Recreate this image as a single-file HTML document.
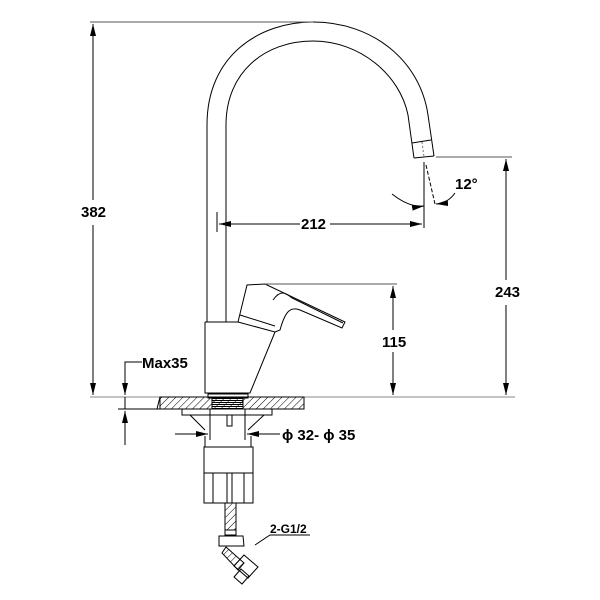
<!DOCTYPE html>
<html><head><style>body{margin:0;background:#fff}svg{display:block}text{font-family:"Liberation Sans Narrow","Liberation Sans",sans-serif;font-size:15px;font-weight:bold;fill:#000}</style></head>
<body>
<svg width="600" height="600" viewBox="0 0 600 600" xmlns="http://www.w3.org/2000/svg">
<defs>
<marker id="a" markerWidth="12" markerHeight="6" refX="12" refY="3" orient="auto" markerUnits="userSpaceOnUse"><path d="M0,0 L12,3 L0,6z" fill="#000"/></marker>
<pattern id="h" width="5" height="5" patternUnits="userSpaceOnUse" patternTransform="rotate(45)"><line x1="0" y1="0" x2="0" y2="5" stroke="#000" stroke-width="1"/></pattern>
<pattern id="t" width="4" height="2" patternUnits="userSpaceOnUse"><line x1="0" y1="0.5" x2="4" y2="0.5" stroke="#000" stroke-width="1"/></pattern>
</defs>
<g fill="none" stroke="#000" stroke-width="1">
<path d="M207,322 L207,125 C207,55 260,22 313,22 C372,22 420,60 428,115 L434,156"/>
<path d="M226,322 L226,125 C226,72 265,41 313,41 C360,41 400,75 408,115 L414,158"/>
<path d="M412,143 L431,140 M414,158 L434,156"/>
<path d="M422,142 L424,157" stroke-dasharray="2,2" stroke="#777"/>
<path d="M205,322 L205,393 L250,393 L275,332 M205,322 L238,322"/>
<path d="M238,322 L247,285 L265,284 L345,322 L342,328 L300,310 C290,306 285,312 280,330 L275,332 L238,322 M240,315 L275,326"/>
<path d="M273,300 C280,290 285,292 292,298 L343,323"/>
<path d="M90,397 L160,397 M304,397 L515,397" stroke="#888"/>
<rect x="160" y="397" width="144" height="12" fill="url(#h)"/>
<path d="M157,409 L160,397 L304,397 L304,409 Z"/>
<rect x="208" y="394" width="40" height="4"/>
<rect x="212" y="398" width="31" height="11" fill="url(#t)"/>
<path d="M182,409 L182,415 L272,415 L272,409 M190,415 L205,430 M264,415 L248,430"/>
<path d="M210,409 L210,440 M245,409 L245,440 M227,415 L227,426 L232,426 L232,415"/>
<path d="M205,436 L205,447 M251,436 L251,447"/>
<rect x="204" y="447" width="49" height="56"/>
<path d="M204,473 L253,473 M227,473 L227,503 M232,473 L232,503 M213,473 L213,503 M244,473 L244,503"/>
<rect x="225" y="503" width="11" height="27" fill="url(#h)"/>
<path d="M225,530 L236,530 L236,535 L225,535 Z"/>
<path d="M219,536 L243,536 L244,546 L219,546 Z"/>
<path d="M226,547 L244,563 L238,570 L222,553 Z" fill="url(#h)"/>
<path d="M244,555 L258,567 L248,578 L234,566 Z"/>
<path d="M241,569 L249,576 L242,584 L234,577 Z"/>
<path d="M255,545 L270,535 L310,535"/>
<path d="M90,22 L313,22" stroke="#555"/>
<path d="M93,200 L93,24" marker-end="url(#a)"/>
<path d="M93,225 L93,395" marker-end="url(#a)"/>
<path d="M436,157 L512,157" stroke="#555"/>
<path d="M506,280 L506,159" marker-end="url(#a)"/>
<path d="M506,305 L506,395" marker-end="url(#a)"/>
<path d="M265,284 L397,284" stroke="#555"/>
<path d="M393,330 L393,286" marker-end="url(#a)"/>
<path d="M393,352 L393,395" marker-end="url(#a)"/>
<path d="M217,212 L217,232 M424,162 L424,228"/>
<path d="M300,224 L219,224" marker-end="url(#a)"/>
<path d="M330,224 L422,224" marker-end="url(#a)"/>
<path d="M426,165 L435,204" stroke-dasharray="4,2"/>
<path d="M392,194 Q410,208 424,206" marker-end="url(#a)"/>
<path d="M455,193 Q448,203 436,204" marker-end="url(#a)"/>
<path d="M142,362 L125,362 L125,395" marker-end="url(#a)"/>
<path d="M125,445 L125,411" marker-end="url(#a)"/>
<path d="M125,397 L125,409 M118,409 L160,409"/>
<path d="M175,434 L208,434" marker-end="url(#a)"/>
<path d="M280,434 L247,434" marker-end="url(#a)"/>
</g>
<rect x="80" y="204" width="26" height="16" fill="#fff"/>
<text x="81" y="217">382</text>
<rect x="494" y="284" width="26" height="16" fill="#fff"/>
<text x="495" y="297">243</text>
<rect x="381" y="334" width="26" height="16" fill="#fff"/>
<text x="382" y="347">115</text>
<text x="301" y="229">212</text>
<text x="455" y="189">12°</text>
<text x="142" y="368">Max35</text>
<text x="282" y="440">ϕ 32- ϕ 35</text>
<text x="270" y="533" style="font-size:12px">2-G1/2</text>
</svg>
</body></html>
